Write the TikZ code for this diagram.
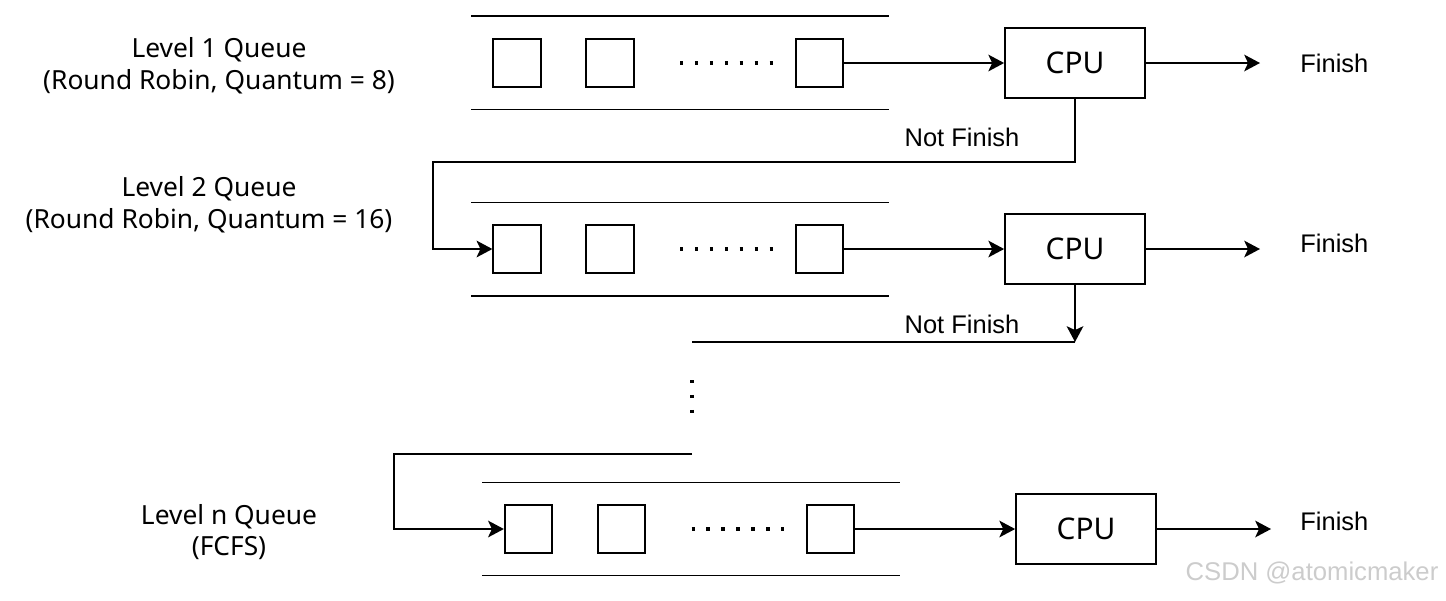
\documentclass[tikz,border=0pt]{standalone}
\usepackage{fontspec}
\setmainfont{Noto Sans}
\newfontfamily\arialfont{Liberation Sans}
\usetikzlibrary{arrows.meta,positioning,calc}
\tikzset{
    slot/.style={rectangle, draw, line width=1pt, minimum size=0.95cm, inner sep=0pt},
    cpubox/.style={rectangle, draw, line width=1pt, minimum width=2.8cm, minimum height=1.4cm, font=\fontsize{17}{20}\selectfont},
    qlabel/.style={align=center, font=\fontsize{15}{18.1}\selectfont},
    flabel/.style={anchor=west, inner sep=0pt, font=\arialfont\fontsize{14.5}{17}\selectfont},
    nlabel/.style={inner sep=0pt, font=\arialfont\fontsize{14.5}{17}\selectfont},
    rail/.style={line width=1pt},
    link/.style={line width=1pt},
    arr/.style={line width=1pt, -{Stealth[length=9pt, width=9.5pt, inset=2.2pt]}},
    dotrow/.style={line width=1.9pt, dash pattern=on 1.9pt off 6.6pt},
}
\begin{document}
\begin{tikzpicture}[x=0.02cm, y=-0.02cm]
    \useasboundingbox (0,0) rectangle (1446,600);

    % Level labels
    \node[qlabel] (lab1) at (219,66) {Level 1 Queue\\(Round Robin, Quantum = 8)};
    \node[qlabel] (lab2) at (209,205) {Level 2 Queue\\(Round Robin, Quantum = 16)};
    \node[qlabel] (labn) at (229,532) {Level n Queue\\(FCFS)};

    % Level 1 queue
    \draw[rail] (471,16) -- (889,16);
    \draw[rail] (471,109.5) -- (889,109.5);
    \node[slot] (q1a) at (517,63) {};
    \node[slot] (q1b) at (610,63) {};
    \node[slot] (q1c) at (819.5,63) {};
    \draw[dotrow] (680,63) -- (774,63);
    \node[cpubox] (cpu1) at (1075,63) {CPU};
    \coordinate (end1) at (1260,63);
    \node[flabel] (fin1) at (1300,63) {Finish};

    % Level 2 queue
    \draw[rail] (471,202.5) -- (889,202.5);
    \draw[rail] (471,296) -- (889,296);
    \node[slot] (q2a) at (517,249) {};
    \node[slot] (q2b) at (610,249) {};
    \node[slot] (q2c) at (819.5,249) {};
    \draw[dotrow] (680,249) -- (774,249);
    \node[cpubox] (cpu2) at (1075,249) {CPU};
    \coordinate (end2) at (1260,249);
    \node[flabel] (fin2) at (1300,243) {Finish};

    % Level n queue
    \draw[rail] (482,482.5) -- (900,482.5);
    \draw[rail] (482,575.5) -- (900,575.5);
    \node[slot] (qna) at (528.5,529) {};
    \node[slot] (qnb) at (621.5,529) {};
    \node[slot] (qnc) at (830.5,529) {};
    \draw[dotrow] (691.5,529) -- (785.5,529);
    \node[cpubox] (cpun) at (1086,529) {CPU};
    \coordinate (endn) at (1271,529);
    \node[flabel] (finn) at (1300,521) {Finish};

    % Into the CPUs and out
    \draw[arr] (q1c.east) -- (cpu1.west);
    \draw[arr] (cpu1.east) -- (end1);
    \draw[arr] (q2c.east) -- (cpu2.west);
    \draw[arr] (cpu2.east) -- (end2);
    \draw[arr] (qnc.east) -- (cpun.west);
    \draw[arr] (cpun.east) -- (endn);

    % Not finished: level 1 -> level 2
    \coordinate (turn1) at (433,162);
    \draw[arr] (cpu1.south) |- (turn1) |- (q2a.west);
    \node[nlabel] (nf1) at (962,137) {Not Finish};

    % Not finished: level 2 -> ...
    \coordinate (drop2) at (1075,342);
    \coordinate (gap2) at (692,342);
    \draw[arr] (cpu2.south) -- (drop2);
    \draw[link] (drop2) -- (gap2);
    \node[nlabel] (nf2) at (962,324) {Not Finish};

    % Skipped levels
    \draw[dotrow] (692,380) -- (692,414);

    % ... -> level n
    \coordinate (gapn) at (692,454);
    \coordinate (turnn) at (394,454);
    \draw[arr] (gapn) -- (turnn) |- (qna.west);

    % Watermark
    \node[font=\arialfont\fontsize{14.6}{17}\selectfont, text=gray!40] (mark) at (1312,573) {CSDN @atomicmaker};
\end{tikzpicture}
\end{document}
